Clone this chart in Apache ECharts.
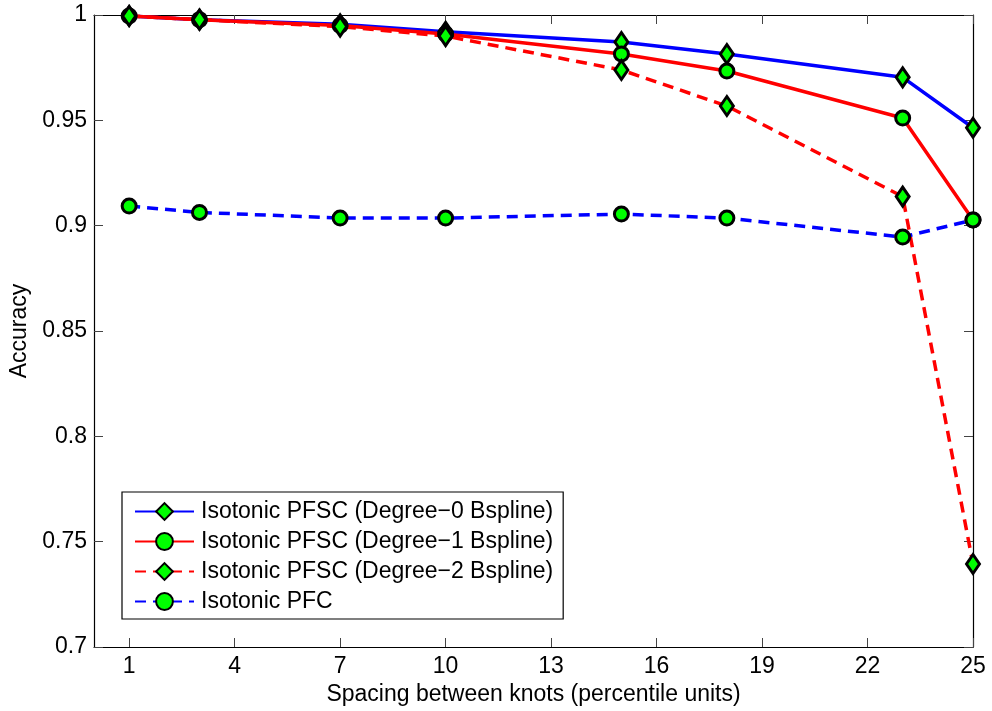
<!DOCTYPE html>
<html>
<head>
<meta charset="utf-8">
<script src="https://cdn.jsdelivr.net/npm/echarts@6/dist/echarts.min.js"></script>
<style>
  html, body { margin: 0; padding: 0; background: #fff; }
  #chart { width: 992px; height: 711px; }
</style>
</head>
<body>
<div id="chart"></div>
<script>
// Knot spacing (percentile units) and accuracy per method
const spacing = [1, 3, 7, 10, 15, 18, 23, 25];
const pfscDeg0 = [0.9995, 0.9978, 0.9956, 0.9920, 0.9872, 0.9815, 0.9704, 0.9465];
const pfscDeg1 = [0.9995, 0.9978, 0.9950, 0.9910, 0.9815, 0.9734, 0.9511, 0.9027];
const pfscDeg2 = [0.9995, 0.9978, 0.9945, 0.9900, 0.9739, 0.9568, 0.9138, 0.7394];
const pfc      = [0.9093, 0.9063, 0.9036, 0.9036, 0.9055, 0.9036, 0.8946, 0.9027];
const xTicks = [1, 4, 7, 10, 13, 16, 19, 22, 25];
const seriesNames = [
  'Isotonic PFSC (Degree\u22120 Bspline)',
  'Isotonic PFSC (Degree\u22121 Bspline)',
  'Isotonic PFSC (Degree\u22122 Bspline)',
  'Isotonic PFC'
];

const FONT = '"Liberation Sans", Arial, Helvetica, sans-serif';
const FS = 23;
const pairs = ys => spacing.map((x, i) => [x, ys[i]]);

function makeSeries(name, ys, color, dashed, symbol) {
  return {
    name: name,
    type: 'line',
    data: pairs(ys),
    symbol: symbol,
    symbolSize: symbol === 'diamond' ? [13, 19] : 14,
    showAllSymbol: true,
    lineStyle: { color: color, width: 3.5, type: dashed ? [11, 7] : 'solid' },
    itemStyle: { color: '#00ff00', borderColor: '#000', borderWidth: 3 },
    emphasis: { disabled: true },
    animation: false
  };
}

const chart = echarts.init(document.getElementById('chart'), null, { renderer: 'canvas' });

const frameAxisX = {
  type: 'value', min: 0, max: 25,
  axisLine: { show: true, onZero: false, lineStyle: { color: '#000', width: 1.2 } },
  splitLine: { show: false }
};
const frameAxisY = {
  type: 'value', min: 0.7, max: 1, interval: 0.05,
  axisLine: { show: true, onZero: false, lineStyle: { color: '#000', width: 1.2 } },
  splitLine: { show: false }
};

chart.setOption({
  backgroundColor: '#fff',
  textStyle: { fontFamily: FONT },
  grid: { left: 94, top: 15, right: 19, bottom: 64, containLabel: false },
  xAxis: [
    Object.assign({}, frameAxisX, {
      position: 'bottom',
      name: 'Spacing between knots (percentile units)',
      nameLocation: 'middle', nameGap: 33,
      nameTextStyle: { fontFamily: FONT, fontSize: FS, color: '#000' },
      axisTick: { show: true, inside: true, length: 9, customValues: xTicks, lineStyle: { color: '#444' } },
      axisLabel: { show: true, customValues: xTicks, margin: 8, fontFamily: FONT, fontSize: FS, color: '#000' }
    }),
    Object.assign({}, frameAxisX, {
      position: 'top',
      axisTick: { show: true, inside: true, length: 9, customValues: xTicks, lineStyle: { color: '#444' } },
      axisLabel: { show: false }
    })
  ],
  yAxis: [
    Object.assign({}, frameAxisY, {
      position: 'left',
      name: 'Accuracy',
      nameLocation: 'middle', nameGap: 57, nameRotate: 90,
      nameTextStyle: { fontFamily: FONT, fontSize: FS, color: '#000' },
      axisTick: { show: true, inside: true, length: 9, lineStyle: { color: '#444' } },
      axisLabel: { show: true, margin: 7, fontFamily: FONT, fontSize: FS, color: '#000' }
    }),
    Object.assign({}, frameAxisY, {
      position: 'right',
      axisTick: { show: true, inside: true, length: 9, lineStyle: { color: '#444' } },
      axisLabel: { show: false }
    })
  ],
  legend: {
    show: true,
    orient: 'vertical',
    left: 122, top: 492,
    padding: [8, 10, 6, 12],
    itemGap: 7,
    itemWidth: 59, itemHeight: 21,
    backgroundColor: '#fff',
    borderColor: '#000', borderWidth: 1.2, borderRadius: 0,
    textStyle: { fontFamily: FONT, fontSize: FS, color: '#000', padding: [0, 0, 0, 2] },
    selectedMode: false,
    data: seriesNames
  },
  series: [
    makeSeries(seriesNames[0], pfscDeg0, '#0000ff', false, 'diamond'),
    makeSeries(seriesNames[1], pfscDeg1, '#ff0000', false, 'circle'),
    makeSeries(seriesNames[2], pfscDeg2, '#ff0000', true, 'diamond'),
    makeSeries(seriesNames[3], pfc, '#0000ff', true, 'circle')
  ]
});
</script>
</body>
</html>
